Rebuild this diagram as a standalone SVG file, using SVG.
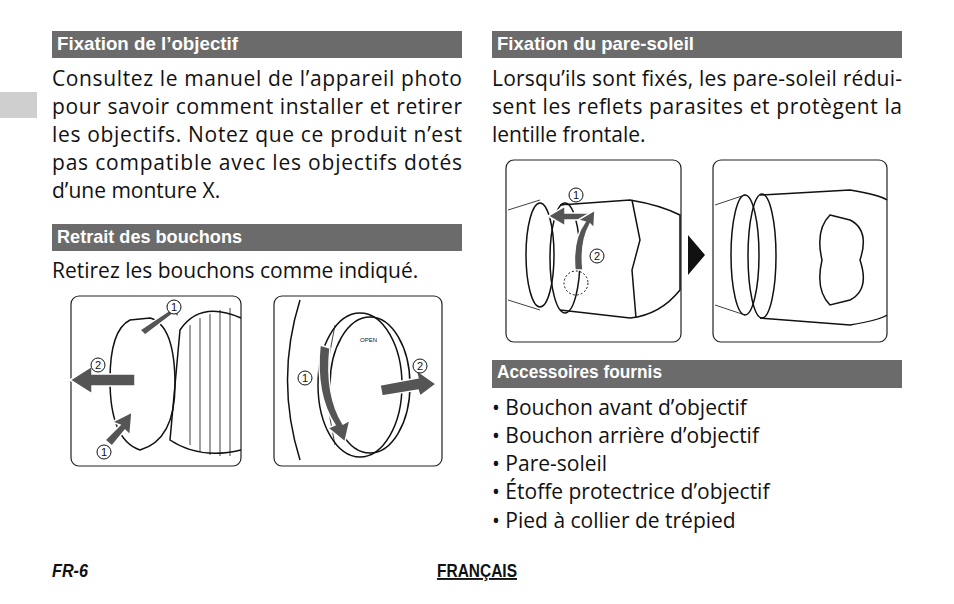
<svg xmlns="http://www.w3.org/2000/svg" width="954" height="604" viewBox="0 0 954 604">
<style>
.bar{fill:#6b6b6b}
.h{font-family:"Liberation Sans Narrow","Liberation Sans",sans-serif;font-weight:bold;font-size:19px;fill:#fff}
.t{font-family:"Open Sans","Liberation Sans",sans-serif;font-size:21px;fill:#111}
.box{fill:#fff;stroke:#222;stroke-width:1.2}
.ln{fill:none;stroke:#111;stroke-width:1.5}
.thin{fill:none;stroke:#111;stroke-width:0.8}
.num{font-family:"Liberation Sans",sans-serif;font-size:11px;fill:#111;text-anchor:middle}
.circ{fill:#fff;stroke:#111;stroke-width:1}
.arr{fill:#555;stroke:#fff;stroke-width:1.5}
</style>
<rect width="954" height="604" fill="#fff"/>
<rect x="0" y="92" width="37" height="26" fill="#cfcfcf"/>
<rect class="bar" x="52" y="31" width="410" height="27"/>
<text class="h" x="57" y="50" textLength="181" lengthAdjust="spacingAndGlyphs">Fixation de l’objectif</text>
<g class="t">
<text x="52" y="86" textLength="410" lengthAdjust="spacing">Consultez le manuel de l’appareil photo</text>
<text x="52" y="114" textLength="410" lengthAdjust="spacing">pour savoir comment installer et retirer</text>
<text x="52" y="142" textLength="410" lengthAdjust="spacing">les objectifs. Notez que ce produit n’est</text>
<text x="52" y="170" textLength="410" lengthAdjust="spacing">pas compatible avec les objectifs dotés</text>
<text x="52" y="198">d’une monture X.</text>
</g>
<rect class="bar" x="52" y="224" width="410" height="27"/>
<text class="h" x="57" y="243" textLength="185" lengthAdjust="spacingAndGlyphs">Retrait des bouchons</text>
<text class="t" x="52" y="278">Retirez les bouchons comme indiqué.</text>

<g id="img1">
<rect class="box" x="71" y="296" width="170" height="170" rx="8"/>
<path class="ln" d="M241 318 Q200 300 180 330 L170 440 Q200 460 241 450"/>
<path class="thin" d="M190 325 L190 445 M200 318 L200 452 M210 314 L210 455 M220 310 L220 456 M230 308 L230 456"/>
<path class="ln" d="M130 320 Q110 330 110 380 Q110 440 140 450 Q175 440 175 385 Q175 325 150 318 Z"/>
<path class="arr" d="M150 340 L140 330 L170 310 L165 305 L180 300 L178 318 L174 313 L145 335 Z"/>
<path class="arr" d="M70 380 L92 366 L92 374 L135 374 L135 386 L92 386 L92 394 Z"/>
<path class="arr" d="M105 440 L120 425 L112 422 L132 412 L130 435 L125 430 L112 446 Z"/>
<circle class="circ" cx="174" cy="307" r="7"/><text class="num" x="174" y="311">1</text>
<circle class="circ" cx="98" cy="365" r="7"/><text class="num" x="98" y="369">2</text>
<circle class="circ" cx="104" cy="452" r="7"/><text class="num" x="104" y="456">1</text>
</g>

<g id="img2">
<rect class="box" x="274" y="296" width="168" height="170" rx="8"/>
<path class="ln" d="M300 300 Q275 380 300 460"/>
<ellipse class="ln" cx="360" cy="385" rx="42" ry="72"/>
<ellipse class="ln" cx="370" cy="385" rx="40" ry="68"/>
<path class="thin" d="M335 325 Q320 385 335 445"/>
<text font-family="Liberation Sans,sans-serif" font-size="6" x="360" y="342" fill="#111">OPEN</text>
<path class="arr" d="M320 345 Q315 395 335 425 L328 428 L345 442 L350 420 L343 424 Q325 395 330 348 Z"/>
<path class="arr" d="M380 385 L418 378 L416 370 L436 384 L420 396 L418 390 L382 396 Z"/>
<circle class="circ" cx="305" cy="378" r="7"/><text class="num" x="305" y="382">1</text>
<circle class="circ" cx="420" cy="366" r="7"/><text class="num" x="420" y="370">2</text>
</g>

<rect class="bar" x="492" y="31" width="410" height="27"/>
<text class="h" x="497" y="50" textLength="197" lengthAdjust="spacingAndGlyphs">Fixation du pare-soleil</text>
<g class="t">
<text x="492" y="86" textLength="410" lengthAdjust="spacing">Lorsqu’ils sont fixés, les pare-soleil rédui-</text>
<text x="492" y="114" textLength="410" lengthAdjust="spacing">sent les reflets parasites et protègent la</text>
<text x="492" y="142">lentille frontale.</text>
</g>

<g id="img3">
<rect class="box" x="506" y="160" width="175" height="182" rx="8"/>
<path class="thin" d="M508 210 L540 200 M508 300 L540 310"/>
<ellipse class="ln" cx="540" cy="255" rx="14" ry="52"/>
<path class="ln" d="M560 205 L630 200 Q660 205 680 215 L680 290 Q660 315 630 318 L560 310"/>
<path class="ln" d="M632 200 L640 240 L632 270 L636 318"/>
<ellipse class="ln" cx="565" cy="258" rx="15" ry="55"/>
<path class="arr" d="M590 213 L565 213 L565 206 L548 216 L565 226 L565 220 L590 220 Z"/>
<path class="arr" d="M575 270 Q572 240 585 222 L578 220 L595 210 L594 228 L590 224 Q580 242 583 270 Z"/>
<circle cx="576" cy="283" r="12" fill="none" stroke="#111" stroke-dasharray="2 2"/>
<circle class="circ" cx="576" cy="195" r="7"/><text class="num" x="576" y="199">1</text>
<circle class="circ" cx="597" cy="256" r="7"/><text class="num" x="597" y="260">2</text>
</g>
<path d="M688 235 L705 255 L688 275 Z" fill="#111"/>
<g id="img4">
<rect class="box" x="713" y="160" width="174" height="182" rx="8"/>
<path class="thin" d="M715 205 L745 195 M715 305 L745 315"/>
<ellipse class="ln" cx="745" cy="255" rx="14" ry="60"/>
<path class="ln" d="M760 195 L850 190 Q880 195 887 200 M760 318 L850 325 Q880 320 887 315"/>
<ellipse class="ln" cx="762" cy="256" rx="14" ry="62"/>
<path class="ln" d="M830 215 L850 220 Q870 230 860 260 Q870 290 850 300 L830 305 Q815 290 822 260 Q815 230 830 215 Z"/>
</g>

<rect class="bar" x="492" y="360" width="410" height="28"/>
<text class="h" x="497" y="378" textLength="165" lengthAdjust="spacingAndGlyphs">Accessoires fournis</text>
<g class="t">
<text x="492" y="415">• Bouchon avant d’objectif</text>
<text x="492" y="443">• Bouchon arrière d’objectif</text>
<text x="492" y="471">• Pare-soleil</text>
<text x="492" y="499">• Étoffe protectrice d’objectif</text>
<text x="492" y="528">• Pied à collier de trépied</text>
</g>
<text x="52" y="577" font-family="Liberation Sans,sans-serif" font-weight="bold" font-style="italic" font-size="19" fill="#111" textLength="36" lengthAdjust="spacingAndGlyphs">FR-6</text>
<text x="437" y="577" font-family="Liberation Sans,sans-serif" font-weight="bold" font-size="19" fill="#111" text-decoration="underline" textLength="80" lengthAdjust="spacingAndGlyphs">FRANÇAIS</text>
</svg>
